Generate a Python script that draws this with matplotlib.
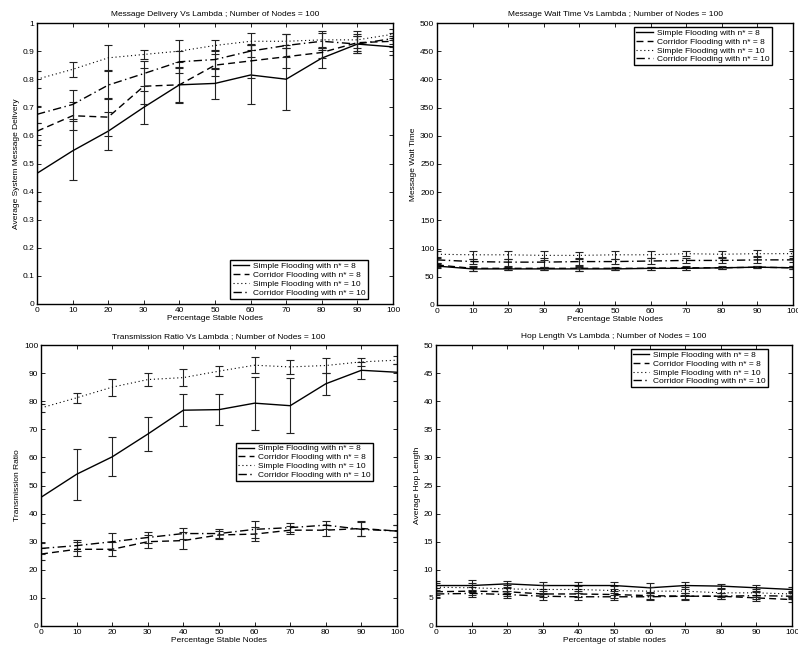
import matplotlib
matplotlib.use("Agg")
import matplotlib.pyplot as plt
import numpy as np

plt.rcParams['font.family'] = ['Liberation Sans', 'DejaVu Sans']
plt.rcParams['font.size'] = 6

x = [0, 10, 20, 30, 40, 50, 60, 70, 80, 90, 100]
labels = ["Simple Flooding with n* = 8", "Corridor Flooding with n* = 8",
          "Simple Flooding with n* = 10", "Corridor Flooding with n* = 10"]
styles = ['-', (0, (5, 3)), (0, (1, 2.5)), (0, (6, 2.5, 1, 2.5))]
widths = [1.0, 1.0, 0.8, 1.0]

# Message delivery
md_s8 = [0.465, 0.545, 0.615, 0.70, 0.78, 0.785, 0.815, 0.80, 0.875, 0.925, 0.915]
md_c8 = [0.615, 0.67, 0.665, 0.775, 0.78, 0.85, 0.865, 0.88, 0.895, 0.93, 0.935]
md_s10 = [0.80, 0.835, 0.876, 0.888, 0.90, 0.92, 0.935, 0.935, 0.94, 0.94, 0.96]
md_c10 = [0.675, 0.71, 0.779, 0.82, 0.862, 0.87, 0.90, 0.92, 0.935, 0.925, 0.945]
md_e_s8 = [0.10, 0.105, 0.067, 0.058, 0.065, 0.055, 0.105, 0.11, 0.035, 0.03, 0.03]
md_e_c8 = [0.03, 0.05, 0.068, 0.065, 0.06, 0.04, 0.06, 0.04, 0.02, 0.03, 0.02]
md_e_s10 = [0.03, 0.027, 0.045, 0.017, 0.04, 0.02, 0.03, 0.025, 0.03, 0.03, 0.02]
md_e_c10 = [0.03, 0.05, 0.05, 0.045, 0.04, 0.035, 0.02, 0.04, 0.03, 0.03, 0.02]

# Message wait time
wt_s8 = [69, 64, 64, 64, 64, 64, 65, 65, 66, 67, 66]
wt_c8 = [71, 65, 65, 65, 65, 65, 65, 66, 66, 67, 66]
wt_s10 = [90, 89, 89, 88, 88, 89, 89, 91, 90, 91, 91]
wt_c10 = [80, 77, 76, 76, 77, 77, 78, 79, 79, 80, 80]
wt_e_s8 = [3, 3, 2, 2, 3, 2, 3, 3, 2, 2, 3]
wt_e_c8 = [3, 4, 3, 3, 4, 3, 3, 4, 3, 2, 3]
wt_e_s10 = [6, 7, 7, 8, 6, 7, 6, 5, 5, 6, 5]
wt_e_c10 = [5, 5, 6, 8, 6, 5, 5, 4, 5, 6, 4]

# Transmission ratio
tr_s8 = [45.8, 54.0, 60.2, 68.3, 76.8, 77.0, 79.3, 78.4, 86.2, 91.0, 90.3]
tr_c8 = [25.6, 27.3, 27.3, 30.0, 30.4, 32.4, 32.7, 34.1, 34.1, 34.7, 33.8]
tr_s10 = [77.6, 81.2, 85.0, 87.7, 88.4, 90.7, 92.8, 92.2, 92.7, 94.0, 94.6]
tr_c10 = [27.6, 28.6, 30.0, 31.5, 32.9, 32.9, 34.4, 35.0, 35.9, 34.4, 33.8]
tr_e_s8 = [9, 9, 6.9, 6, 5.8, 5.5, 9.4, 9.7, 4, 3, 3]
tr_e_s10 = [1.5, 1.7, 3, 2.3, 3, 1.9, 2.8, 2.4, 2.5, 1.3, 1.5]
tr_e_c8 = [2, 2.5, 2.5, 2.3, 3, 1.5, 2.5, 1.5, 2, 2.5, 2]
tr_e_c10 = [2, 2, 3, 2, 2, 1.5, 3, 1.5, 1.5, 2.5, 2]

# Hop length
hl_s8 = [7.2, 7.2, 7.5, 7.2, 7.2, 7.2, 6.8, 7.2, 7.1, 6.8, 6.5]
hl_c8 = [6.1, 6.2, 6.1, 5.7, 5.7, 5.6, 5.4, 5.3, 5.3, 5.0, 4.7]
hl_s10 = [6.9, 6.8, 6.6, 6.5, 6.5, 6.3, 6.2, 6.2, 5.9, 5.9, 5.7]
hl_c10 = [5.7, 5.8, 5.6, 5.3, 5.2, 5.2, 5.2, 5.3, 5.3, 5.4, 5.3]
hl_e_s8 = [0.8, 0.9, 0.5, 0.6, 0.7, 0.7, 0.9, 0.7, 0.4, 0.5, 0.5]
hl_e_c8 = [0.6, 0.7, 0.7, 0.6, 0.6, 0.6, 0.6, 0.5, 0.5, 0.6, 0.5]
hl_e_s10 = [0.7, 0.8, 0.7, 0.8, 0.7, 0.8, 0.7, 0.7, 0.7, 0.7, 0.6]
hl_e_c10 = [0.5, 0.6, 0.6, 0.6, 0.6, 0.6, 0.6, 0.6, 0.5, 0.6, 0.5]

fig = plt.figure(figsize=(7.98, 6.51), dpi=100)

W, H = 798.0, 651.0
def box(l, t, r, b):
    return [l / W, 1 - b / H, (r - l) / W, (b - t) / H]

panels = [
    dict(rect=box(37, 23, 393, 304), title="Message Delivery Vs Lambda ; Number of Nodes = 100",
         ylabel="Average System Message Delivery", xlabel="Percentage Stable Nodes",
         ys=[md_s8, md_c8, md_s10, md_c10], es=[md_e_s8, md_e_c8, md_e_s10, md_e_c10],
         ylim=(0, 1), yticks=np.round(np.arange(0, 1.01, 0.1), 1),
         yticklabels=['0', '0.1', '0.2', '0.3', '0.4', '0.5', '0.6', '0.7', '0.8', '0.9', '1'],
         leg=dict(loc='lower right', bbox_to_anchor=(0.93, 0.018))),
    dict(rect=box(437, 23, 793, 305), title="Message Wait Time Vs Lambda ; Number of Nodes = 100",
         ylabel="Message Wait Time", xlabel="Percentage Stable Nodes",
         ys=[wt_s8, wt_c8, wt_s10, wt_c10], es=[wt_e_s8, wt_e_c8, wt_e_s10, wt_e_c10],
         ylim=(0, 500), yticks=np.arange(0, 501, 50), yticklabels=None,
         leg=dict(loc='upper right', bbox_to_anchor=(0.941, 0.986))),
    dict(rect=box(41, 345, 397, 626), title="Transmission Ratio Vs Lambda ; Number of Nodes = 100",
         ylabel="Transmission Ratio", xlabel="Percentage Stable Nodes",
         ys=[tr_s8, tr_c8, tr_s10, tr_c10], es=[tr_e_s8, tr_e_c8, tr_e_s10, tr_e_c10],
         ylim=(0, 100), yticks=np.arange(0, 101, 10), yticklabels=None,
         leg=dict(loc='lower right', bbox_to_anchor=(0.933, 0.516))),
    dict(rect=box(436, 345, 792, 626), title="Hop Length Vs Lambda ; Number of Nodes = 100",
         ylabel="Average Hop Length", xlabel="Percentage of stable nodes",
         ys=[hl_s8, hl_c8, hl_s10, hl_c10], es=[hl_e_s8, hl_e_c8, hl_e_s10, hl_e_c10],
         ylim=(0, 50), yticks=np.arange(0, 51, 5), yticklabels=None,
         leg=dict(loc='upper right', bbox_to_anchor=(0.933, 0.986))),
]

for p in panels:
    ax = fig.add_axes(p['rect'])
    handles = []
    for y, e, ls, lw, lab in zip(p['ys'], p['es'], styles, widths, labels):
        ax.errorbar(x, y, yerr=e, fmt='none', ecolor='#222222', elinewidth=0.8,
                    capsize=3, capthick=0.8)
        h, = ax.plot(x, y, linestyle=ls, color='black', linewidth=lw, label=lab)
        handles.append(h)
    ax.set_xlim(0, 100)
    ax.set_ylim(*p['ylim'])
    ax.set_xticks(x)
    ax.set_yticks(p['yticks'])
    if p['yticklabels'] is not None:
        ax.set_yticklabels(p['yticklabels'])
    ax.tick_params(direction='in', top=True, right=True, length=3, width=0.6, pad=2, labelsize=6)
    for s in ax.spines.values():
        s.set_linewidth(1.0)
    ax.set_title(p['title'], fontsize=6, pad=5)
    ax.set_xlabel(p['xlabel'], fontsize=6, labelpad=1)
    ax.set_ylabel(p['ylabel'], fontsize=6, labelpad=2)
    leg = ax.legend(handles=handles, fontsize=6, frameon=True, fancybox=False,
                    edgecolor='black', framealpha=1, borderaxespad=0,
                    handlelength=2.0, labelspacing=0.12, borderpad=0.25,
                    handletextpad=0.5, **p['leg'])
    leg.get_frame().set_linewidth(1.0)

fig.savefig("out.png", dpi=100)
